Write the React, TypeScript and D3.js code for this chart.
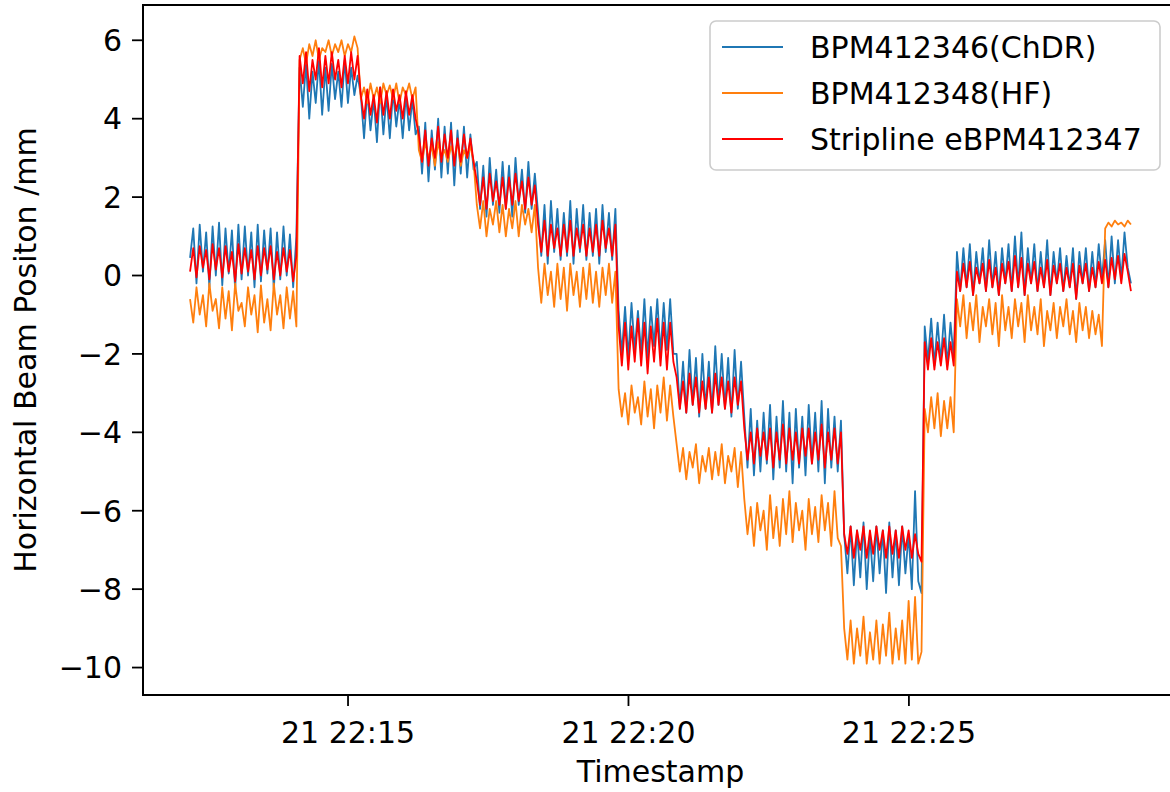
import React from "react";
import * as d3 from "d3";

// Sampling: regular acquisition starting at 21st, 22:12:11, one reading every ~3.45 s
const START_TIME = new Date(2021, 9, 21, 22, 12, 11);
const SAMPLE_INTERVAL_MS = 3447;

const SERIES_NAMES = ["BPM412346(ChDR)", "BPM412348(HF)", "Stripline eBPM412347"];
const SERIES_COLORS = ["#1f77b4", "#ff7f0e", "#ff0000"];
const Y_TICKS = [-10, -8, -6, -4, -2, 0, 2, 4, 6];

const chdr = [
  0.45, 1.2, -0.2, 1.3, 0.1, 1.1, -0.3, 1.25, 0.0, 1.35, -0.25, 1.2, 0.05, 1.15, -0.35, 1.3, -0.1, 1.25, 0.0, 1.1, -0.3, 1.3, -0.15, 1.15, 0.05, 1.2, -0.35, 1.1, -0.1, 1.25, 0.0, 1.05, -0.3, 1.0,
  5.3, 4.3, 5.4, 4.0, 5.2, 4.4, 5.5, 4.1, 5.3, 4.2, 5.4, 4.5, 5.2, 4.3, 5.5, 4.4, 5.3, 4.6, 5.1,
  4.6, 3.5, 4.7, 3.7, 4.5, 3.4, 4.8, 3.6, 4.6, 3.5, 4.7, 3.8, 4.5, 3.5, 4.6, 3.7, 4.5, 3.6,
  3.8, 2.6, 3.9, 2.4, 3.7, 2.7, 4.0, 2.5, 3.8, 2.6, 3.9, 2.3, 3.7, 2.6, 3.8, 2.5, 3.6, 2.7,
  2.9, 1.7, 2.8, 1.5, 3.0, 1.8, 2.7, 1.6, 2.9, 1.7, 2.8, 1.5, 3.0, 1.8, 2.7, 1.6, 2.9, 1.7, 2.6,
  1.6, 0.5, 1.8, 0.3, 1.9, 0.6, 1.7, 0.4, 1.6, 0.5, 1.9, 0.3, 1.7, 0.6, 1.8, 0.4, 1.6, 0.5, 1.7, 0.3, 1.8, 0.6, 1.6, 0.4, 1.7,
  -0.9, -2.0, -0.8, -2.1, -0.7, -1.9, -0.9, -2.0, -0.6, -2.1, -0.8, -1.8, -0.6, -2.0, -0.7, -1.9, -0.6, -2.0,
  -2.0, -3.4, -2.2, -3.5, -1.9, -3.3, -2.1, -3.6, -2.0, -3.4, -2.2, -3.5, -1.8, -3.3, -2.0, -3.4, -2.1, -3.6, -1.9, -3.4, -2.2,
  -3.6, -4.9, -3.4, -5.1, -3.7, -5.0, -3.5, -4.8, -3.3, -5.2, -3.6, -4.9, -3.2, -5.0, -3.5, -5.3, -3.4, -4.9, -3.6, -5.1, -3.3, -4.8, -3.5, -5.0, -3.2, -5.3, -3.4, -4.9, -3.6, -5.0, -3.7,
  -6.6, -7.6, -6.4, -7.9, -6.5, -7.7, -6.3, -8.0, -6.6, -7.8, -6.4, -7.6, -6.5, -8.1, -6.3, -7.7, -6.5, -7.9, -6.4, -7.6, -6.6, -8.0, -5.5, -7.8, -8.1,
  -1.3, -2.2, -1.1, -2.3, -1.2, -2.2, -1.0, -2.3, -1.2, -2.1,
  0.6, -0.4, 0.7, -0.3, 0.8, -0.5, 0.6, -0.2, 0.7, -0.4, 0.9, -0.3, 0.6, -0.5, 0.7, -0.2, 0.8, -0.4, 1.0, -0.3,
  1.1, -0.5, 0.7, -0.2, 0.8, -0.4, 0.6, -0.3, 0.9, -0.5, 0.6, -0.2, 0.7, -0.4, 0.5, -0.3, 0.7, -0.6, 0.6, -0.2,
  0.7, -0.4, 0.6, -0.3, 0.8, -0.1, 0.9, -0.3, 1.0, -0.2, 0.9, -0.1, 1.1, 0.2, -0.2,
];

const hf = [
  -0.6, -1.2, -0.3, -1.0, -0.5, -1.3, -0.2, -0.9, -0.6, -1.35, -0.3, -1.1, -0.4, -1.4, -0.2, -0.9, -0.7, -1.3, -0.3, -1.0, -0.5, -1.45, -0.25, -1.2, -0.6, -1.4, -0.2, -1.0, -0.5, -1.35, -0.3, -1.1, -0.4, -1.3,
  5.5, 5.8, 5.4, 5.9, 5.6, 6.0, 5.5, 5.8, 5.7, 6.0, 5.6, 5.9, 5.7, 6.0, 5.6, 5.9, 5.7, 6.1, 5.8,
  4.5, 4.8, 4.4, 4.9, 4.5, 4.8, 4.4, 4.9, 4.6, 4.85, 4.5, 4.9, 4.4, 4.8, 4.6, 4.9, 4.5, 4.8,
  3.2, 2.9, 3.4, 3.0, 3.3, 2.8, 3.4, 3.0, 3.2, 2.9, 3.3, 3.0, 3.4, 2.8, 3.2, 3.0, 3.3, 2.9,
  1.8, 1.2, 1.9, 1.0, 1.7, 1.3, 1.9, 1.1, 1.8, 1.0, 1.7, 1.2, 1.9, 1.0, 1.8, 1.3, 1.7, 1.1, 1.8,
  0.2, -0.7, 0.3, -0.5, 0.1, -0.8, 0.3, -0.6, 0.2, -0.9, 0.3, -0.5, 0.1, -0.8, 0.2, -0.6, 0.3, -0.7, 0.1, -0.8, 0.2, -0.5, 0.3, -0.7, 0.1,
  -2.9, -3.6, -3.0, -3.8, -2.8, -3.5, -3.1, -3.8, -2.7, -3.6, -2.9, -3.9, -2.8, -3.5, -2.6, -3.7, -2.8, -3.6,
  -4.3, -5.0, -4.4, -5.2, -4.5, -4.9, -4.3, -5.3, -4.6, -5.0, -4.4, -5.2, -4.5, -5.1, -4.3, -5.3, -4.6, -5.0, -4.4, -5.4, -4.5,
  -5.7, -6.6, -5.9, -6.9, -5.8, -6.5, -6.0, -7.0, -5.6, -6.7, -5.9, -6.9, -5.7, -6.6, -5.5, -6.8, -5.8, -6.5, -6.0, -7.0, -5.7, -6.6, -5.9, -6.8, -5.6, -6.5, -5.8, -6.9, -5.5, -6.7, -6.9,
  -9.0, -9.8, -8.8, -9.9, -9.0, -9.7, -8.7, -9.9, -9.1, -9.8, -8.8, -9.9, -8.9, -9.7, -8.6, -9.9, -9.0, -9.8, -8.8, -9.9, -8.3, -9.8, -8.2, -9.9, -9.6,
  -3.4, -4.0, -3.1, -3.9, -3.0, -4.1, -3.2, -3.9, -3.1, -4.0,
  -0.6, -1.3, -0.5, -1.6, -0.7, -1.4, -0.5, -1.7, -0.8, -1.3, -0.6, -1.5, -0.7, -1.8, -0.5, -1.4, -0.8, -1.6, -0.6, -1.3,
  -0.7, -1.7, -0.5, -1.4, -0.8, -1.5, -0.6, -1.8, -0.9, -1.4, -0.7, -1.6, -0.8, -1.3, -0.6, -1.5, -0.9, -1.7, -0.7, -1.4,
  -0.8, -1.6, -0.9, -1.5, -1.0, -1.8, 1.2, 1.35, 1.25, 1.4, 1.3, 1.35, 1.25, 1.4, 1.3,
];

const stripline = [
  0.1, 0.7, -0.05, 0.75, 0.2, 0.65, -0.1, 0.8, 0.15, 0.7, -0.05, 0.75, 0.1, 0.6, -0.15, 0.8, 0.05, 0.7, 0.1, 0.65, -0.1, 0.75, 0.0, 0.7, 0.15, 0.75, -0.1, 0.6, 0.0, 0.7, 0.1, 0.65, -0.15, 0.5,
  5.6, 4.9, 5.7, 4.7, 5.5, 5.0, 5.8, 4.8, 5.6, 4.9, 5.7, 5.0, 5.5, 4.8, 5.6, 4.9, 5.7, 5.0, 5.6,
  4.6, 4.0, 4.75, 4.1, 4.6, 3.9, 4.8, 4.1, 4.7, 4.0, 4.75, 4.2, 4.6, 4.0, 4.7, 4.1, 4.6, 4.0,
  3.6, 2.9, 3.7, 2.8, 3.5, 3.0, 3.8, 2.9, 3.6, 3.0, 3.7, 2.8, 3.5, 2.9, 3.6, 3.0, 3.5, 2.9,
  2.4, 1.8, 2.5, 1.7, 2.6, 1.9, 2.4, 1.8, 2.5, 1.7, 2.5, 1.8, 2.6, 1.9, 2.4, 1.7, 2.5, 1.8, 2.3,
  1.3, 0.6, 1.4, 0.5, 1.3, 0.7, 1.2, 0.5, 1.3, 0.6, 1.4, 0.5, 1.2, 0.7, 1.3, 0.5, 1.2, 0.6, 1.3, 0.5, 1.4, 0.7, 1.2, 0.5, 1.3,
  -1.3, -2.3, -1.2, -2.4, -1.3, -2.2, -1.1, -2.3, -1.2, -2.5, -1.3, -2.2, -1.1, -2.3, -1.2, -2.4, -1.2, -2.2,
  -2.6, -3.4, -2.7, -3.5, -2.5, -3.3, -2.6, -3.5, -2.7, -3.4, -2.6, -3.5, -2.5, -3.3, -2.6, -3.4, -2.7, -3.5, -2.6, -3.3, -2.7,
  -3.9, -4.7, -4.0, -4.8, -3.9, -4.6, -4.0, -4.7, -3.9, -4.9, -4.0, -4.7, -3.8, -4.8, -3.9, -4.7, -4.0, -4.8, -3.9, -4.6, -3.9, -4.8, -4.0, -4.7, -3.8, -4.9, -4.0, -4.7, -3.9, -4.8, -4.0,
  -6.6, -7.1, -6.4, -7.2, -6.5, -7.0, -6.4, -7.2, -6.5, -7.1, -6.4, -7.0, -6.5, -7.2, -6.4, -7.1, -6.5, -7.2, -6.4, -7.0, -6.5, -7.2, -6.6, -7.1, -7.3,
  -1.7, -2.4, -1.6, -2.4, -1.7, -2.3, -1.6, -2.4, -1.7, -2.3,
  0.1, -0.4, 0.3, -0.3, 0.35, -0.5, 0.2, -0.2, 0.3, -0.4, 0.4, -0.3, 0.2, -0.5, 0.3, -0.2, 0.35, -0.4, 0.5, -0.3,
  0.45, -0.5, 0.3, -0.2, 0.35, -0.4, 0.2, -0.3, 0.4, -0.5, 0.25, -0.2, 0.3, -0.4, 0.2, -0.3, 0.3, -0.6, 0.25, -0.2,
  0.3, -0.4, 0.2, -0.3, 0.35, -0.2, 0.4, -0.3, 0.45, -0.1, 0.5, -0.2, 0.55, 0.1, -0.4,
];

const SERIES = [chdr, hf, stripline];

const W = 1170;
const H = 792;
const M = { left: 143, right: 1178, top: 5, bottom: 695 };
const FONT = "DejaVu Sans, Verdana, sans-serif";
const FS = 30;

export default function App() {
  const times = chdr.map((_, i) => new Date(START_TIME.getTime() + i * SAMPLE_INTERVAL_MS));
  const [t0, t1] = d3.extent(times) as [Date, Date];
  const tPad = (t1.getTime() - t0.getTime()) * 0.05;
  const x = d3
    .scaleTime()
    .domain([new Date(t0.getTime() - tPad), new Date(t1.getTime() + tPad)])
    .range([M.left, M.right]);

  const all = SERIES.flat();
  const [yMin, yMax] = d3.extent(all) as [number, number];
  const yPad = (yMax - yMin) * 0.05;
  const y = d3.scaleLinear().domain([yMin - yPad, yMax + yPad]).range([M.bottom, M.top]);

  const xTicks = x.ticks(d3.timeMinute.every(5) as any);
  const fmt = d3.timeFormat("%d %H:%M");

  const line = d3
    .line<number>()
    .x((_, i) => x(times[i]))
    .y((d) => y(d));

  const legendRows = [47, 93, 139];

  return (
    <svg
      width={W}
      height={H}
      style={{ position: "absolute", left: 0, top: 0, background: "#fff" }}
      fontFamily={FONT}
    >
      <rect x={0} y={0} width={W} height={H} fill="#fff" />
      {SERIES.map((s, k) => (
        <path
          key={k}
          d={line(s) || ""}
          fill="none"
          stroke={SERIES_COLORS[k]}
          strokeWidth={1.8}
          strokeLinejoin="round"
        />
      ))}
      {/* spines */}
      <rect
        x={M.left}
        y={M.top}
        width={M.right - M.left}
        height={M.bottom - M.top}
        fill="none"
        stroke="#000"
        strokeWidth={2}
      />
      {/* y ticks */}
      {Y_TICKS.map((v) => (
        <g key={v}>
          <line x1={M.left - 11} x2={M.left} y1={y(v)} y2={y(v)} stroke="#000" strokeWidth={1.8} />
          <text x={M.left - 21} y={y(v)} dy="0.36em" textAnchor="end" fontSize={FS} fill="#000">
            {v < 0 ? "\u2212" + Math.abs(v) : String(v)}
          </text>
        </g>
      ))}
      {/* x ticks */}
      {xTicks.map((t) => (
        <g key={t.getTime()}>
          <line x1={x(t)} x2={x(t)} y1={M.bottom} y2={M.bottom + 11} stroke="#000" strokeWidth={1.8} />
          <text x={x(t)} y={743} textAnchor="middle" fontSize={FS} fill="#000">
            {fmt(t)}
          </text>
        </g>
      ))}
      <text x={(M.left + M.right) / 2} y={782} textAnchor="middle" fontSize={FS} fill="#000">
        Timestamp
      </text>
      <text
        transform={`translate(36, ${(M.top + M.bottom) / 2}) rotate(-90)`}
        textAnchor="middle"
        fontSize={FS}
        fill="#000"
      >
        Horizontal Beam Positon /mm
      </text>
      {/* legend */}
      <rect
        x={710}
        y={21}
        width={450}
        height={149}
        rx={6}
        fill="#fff"
        fillOpacity={0.8}
        stroke="#cccccc"
        strokeWidth={1.6}
      />
      {SERIES_NAMES.map((name, k) => (
        <g key={name}>
          <line
            x1={722}
            x2={783}
            y1={legendRows[k]}
            y2={legendRows[k]}
            stroke={SERIES_COLORS[k]}
            strokeWidth={1.8}
          />
          <text x={810} y={legendRows[k]} dy="0.36em" fontSize={FS} fill="#000">
            {name}
          </text>
        </g>
      ))}
    </svg>
  );
}
